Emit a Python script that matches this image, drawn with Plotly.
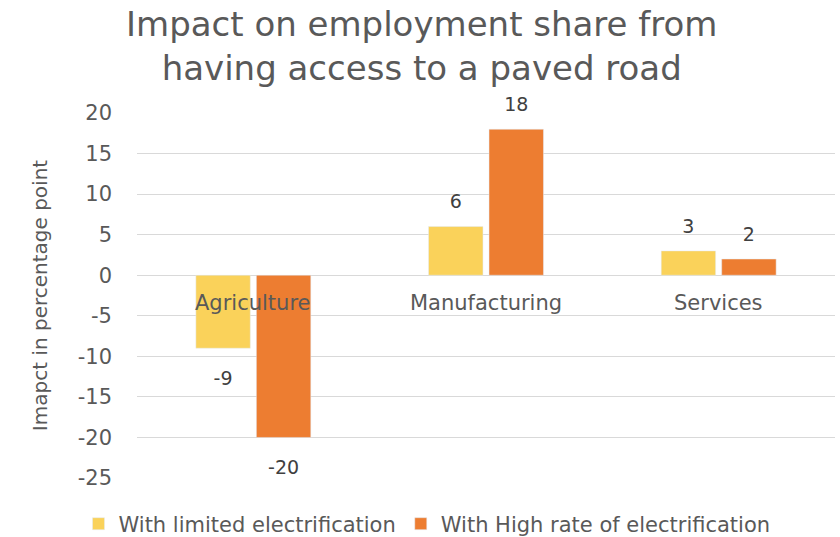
import plotly.graph_objects as go

categories = ["Agriculture", "Manufacturing", "Services"]
limited = [-9, 6, 3]
high = [-20, 18, 2]
series_names = ["With limited electrification", "With High rate of electrification"]
colors = ["#FAD25A", "#ED7D31"]
yticks = [20, 15, 10, 5, 0, -5, -10, -15, -20, -25]

FONT = "DejaVu Sans, sans-serif"
GRAY = "#595959"

fig = go.Figure()
for name, vals, col, grp in [(series_names[0], limited, colors[0], "a"),
                             (series_names[1], high, colors[1], "b")]:
    fig.add_trace(go.Bar(x=categories, y=vals, name=name, marker_color=col,
                         offsetgroup=grp))
for vals, grp in [(limited, "a"), (high, "b")]:
    fig.add_trace(go.Scatter(
        x=categories, y=vals, mode="markers+text", offsetgroup=grp,
        text=[str(v) for v in vals],
        textposition=["bottom center" if v < 0 else "top center" for v in vals],
        marker=dict(size=[34 if v < 0 else 20 for v in vals], opacity=0),
        showlegend=False, hoverinfo="skip", cliponaxis=False,
        textfont=dict(size=19, color="#404040", family=FONT)))

for c in categories:
    fig.add_annotation(x=c, y=0, xref="x", yref="y", text=c, showarrow=False,
                       yanchor="top", yshift=-14,
                       font=dict(size=21, color=GRAY, family=FONT))

fig.add_annotation(x=(421 - 137) / 698, xref="paper", y=1.305, yref="paper",
                   xanchor="center", yanchor="top", showarrow=False,
                   text="Impact on employment share from<br>having access to a paved road",
                   font=dict(size=34, color=GRAY, family=FONT))

fig.update_layout(
    width=840, height=537,
    paper_bgcolor="white", plot_bgcolor="white",
    margin=dict(l=137, r=5, t=113, b=59, autoexpand=False),
    barmode="group", bargap=0.48, bargroupgap=0.1,
    scattermode="group", scattergap=0.48,
    font=dict(family=FONT, color=GRAY),
    showlegend=True,
    legend=dict(orientation="h", x=(427 - 137) / 698, xanchor="center", y=-0.07,
                yanchor="top", font=dict(size=21, color=GRAY, family=FONT),
                itemwidth=30, traceorder="normal"),
)
fig.update_xaxes(showticklabels=False, showgrid=False, showline=False, zeroline=False)
fig.update_yaxes(range=[-25, 20], tickvals=yticks, ticktext=[str(v) for v in yticks],
                 showgrid=True, gridcolor="#D9D9D9", gridwidth=1,
                 zeroline=True, zerolinecolor="#D9D9D9", zerolinewidth=1,
                 tickfont=dict(size=21, color=GRAY, family=FONT),
                 title=dict(text="Imapct in percentage point", standoff=24,
                            font=dict(size=20, color=GRAY, family=FONT)),
                 ticklabelstandoff=24)

fig.write_html("out.html")
